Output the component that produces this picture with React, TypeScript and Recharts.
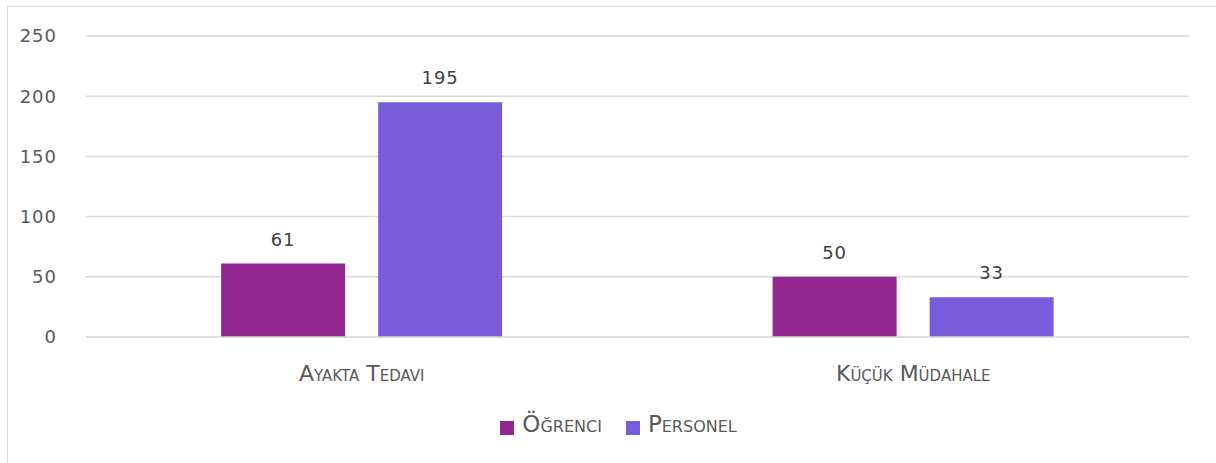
import React from 'react';
import { BarChart, Bar, XAxis, YAxis, CartesianGrid, Legend, LabelList } from 'recharts';

const categories = ['Ayakta Tedavi', 'Küçük Müdahale'];
const ogrenciValues = [61, 50];
const personelValues = [195, 33];
const yTicks = [0, 50, 100, 150, 200, 250];

const COLORS = { ogrenci: '#92278F', personel: '#775DDB' };
const TEXT = '#595959';

const chartData = categories.map((name, i) => ({
  name,
  ogrenci: ogrenciValues[i],
  personel: personelValues[i],
}));

const seriesNames: Record<string, string> = {
  ogrenci: 'Öğrenci',
  personel: 'Personel',
};

export default function App() {
  return (
    <div
      style={{
        position: 'absolute',
        left: 7,
        top: 6,
        width: 1220,
        height: 470,
        border: '1px solid #D9D9D9',
        boxSizing: 'border-box',
        background: '#fff',
      }}
    >
      <BarChart
        width={1218}
        height={468}
        data={chartData}
        margin={{ top: 29, right: 37, left: 0, bottom: 67 }}
        barCategoryGap="24.5%"
        barGap={33}
      >
        <CartesianGrid stroke="#D9D9D9" strokeWidth={1.5} vertical={false} />
        <XAxis
          dataKey="name"
          axisLine={{ stroke: '#D9D9D9', strokeWidth: 1.5 }}
          tickLine={false}
          height={45}
          tick={{
            fontSize: 22,
            fill: TEXT,
            fontFamily: 'DejaVu Sans',
            style: { fontVariant: 'small-caps' },
          }}
          tickMargin={22}
        />
        <YAxis
          domain={[0, 250]}
          ticks={yTicks}
          axisLine={false}
          tickLine={false}
          width={78}
          tickMargin={23}
          tick={{ fontSize: 18, fill: TEXT, fontFamily: 'DejaVu Sans', letterSpacing: 1 }}
        />
        <Legend
          verticalAlign="bottom"
          iconType="square"
          iconSize={14}
          formatter={(value: string) => (
            <span
              style={{
                color: TEXT,
                fontVariant: 'small-caps',
                fontFamily: 'DejaVu Sans',
                fontSize: 23,
                marginLeft: 4,
                marginRight: value === 'ogrenci' ? 14 : 0,
              }}
            >
              {seriesNames[value]}
            </span>
          )}
          wrapperStyle={{ bottom: 38, paddingLeft: 25 }}
        />
        <Bar dataKey="ogrenci" fill={COLORS.ogrenci} isAnimationActive={false}>
          <LabelList
            dataKey="ogrenci"
            position="top"
            offset={18}
            style={{ fontSize: 18, fill: '#404040', fontFamily: 'DejaVu Sans', letterSpacing: 1 }}
          />
        </Bar>
        <Bar dataKey="personel" fill={COLORS.personel} isAnimationActive={false}>
          <LabelList
            dataKey="personel"
            position="top"
            offset={18}
            style={{ fontSize: 18, fill: '#404040', fontFamily: 'DejaVu Sans', letterSpacing: 1 }}
          />
        </Bar>
      </BarChart>
    </div>
  );
}
